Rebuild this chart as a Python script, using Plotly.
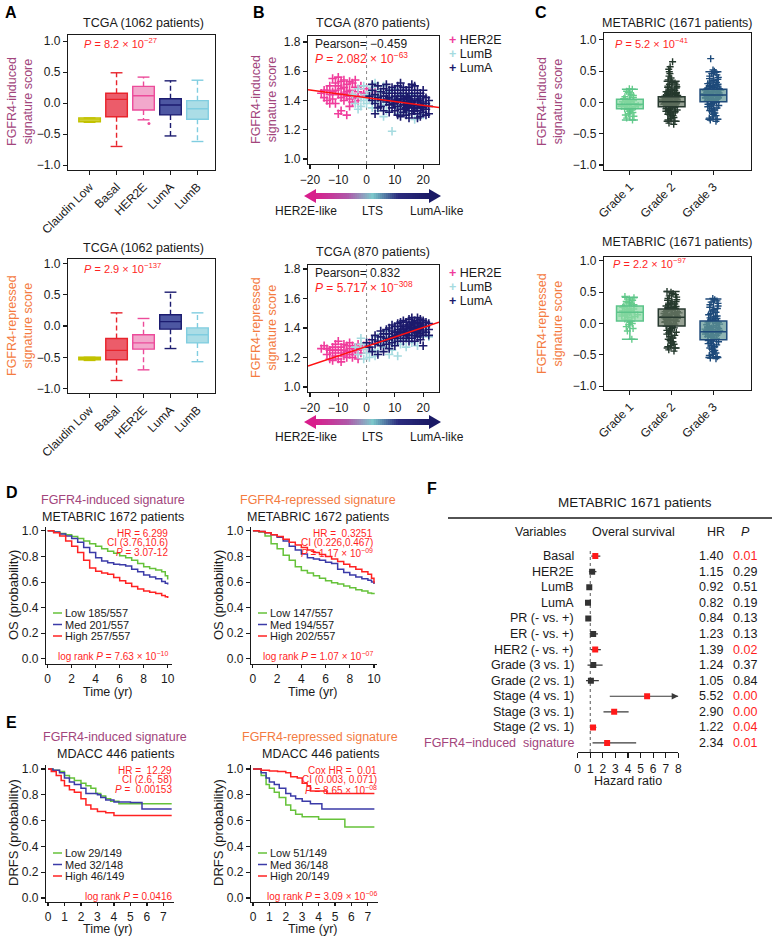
import plotly.graph_objects as go

W, H = 772, 940
FONT = "Liberation Sans, Arial, Helvetica, sans-serif"
BLACK = "#1a1a1a"
RED = "#ff1f1f"
PURPLE = "#a2457c"
ORANGE = "#f47b3f"

# ---------------- Panel A (TCGA subtypes) ----------------
a_cats = ["Claudin Low", "Basal", "HER2E", "LumA", "LumB"]
a_line = ["#c2c200", "#e8242c", "#ec4b9a", "#1c1c70", "#80cde0"]
a_fill = ["#e0e066", "#ec5c6a", "#f2a8cc", "#4d57a2", "#abdde6"]
a_top_low = [-0.31, -0.70, -0.27, -0.53, -0.62]
a_top_q1 = [-0.30, -0.22, -0.11, -0.19, -0.26]
a_top_med = [-0.27, 0.06, 0.12, -0.03, -0.09]
a_top_q3 = [-0.24, 0.16, 0.27, 0.07, 0.04]
a_top_high = [-0.24, 0.49, 0.42, 0.36, 0.37]
a_top_out_x = [2.2]
a_top_out_y = [-0.33]
a_bot_low = [-0.55, -0.87, -0.70, -0.36, -0.57]
a_bot_q1 = [-0.54, -0.54, -0.37, -0.05, -0.27]
a_bot_med = [-0.52, -0.39, -0.27, 0.07, -0.14]
a_bot_q3 = [-0.50, -0.20, -0.14, 0.18, -0.03]
a_bot_high = [-0.50, 0.21, 0.12, 0.54, 0.21]

# ---------------- Panel B (LTS scatter) ----------------
b_top_her2e_x = [-16, -15, -14, -14, -13, -13, -12, -12, -12, -11, -11, -11, -10, -10, -10, -10, -9, -9, -9, -9,
                 -8, -8, -8, -8, -7, -7, -7, -7, -6, -6, -6, -6, -5, -5, -5, -4, -4, -3, -3, -2, -2, -1, 0, 2, 3,
                 -15, -13, -4]
b_top_her2e_y = [1.45, 1.42, 1.47, 1.40, 1.50, 1.44, 1.55, 1.46, 1.41, 1.52, 1.47, 1.38, 1.56, 1.50, 1.44, 1.31,
                 1.53, 1.48, 1.42, 1.33, 1.54, 1.49, 1.45, 1.40, 1.51, 1.46, 1.43, 1.30, 1.53, 1.47, 1.41, 1.36,
                 1.52, 1.44, 1.39, 1.49, 1.42, 1.46, 1.40, 1.50, 1.43, 1.45, 1.48, 1.44, 1.46, 1.47, 1.38, 1.54]
b_top_lumb_x = [-5, -4, -3, -3, -2, -1, -1, 0, 0, 1, 1, 2, 2, 3, 3, 4, 4, 5, 5, 6, 6, 7, 7, 8, 8, 9, 9, 10, 10,
                11, 11, 12, 12, 13, 13, 14, 15, 15, 16, 17, 17, 18, 19, 20, 21, -2, 6, 3]
b_top_lumb_y = [1.44, 1.38, 1.34, 1.48, 1.42, 1.40, 1.50, 1.44, 1.38, 1.46, 1.41, 1.35, 1.49, 1.43, 1.39, 1.47,
                1.33, 1.41, 1.45, 1.37, 1.50, 1.43, 1.33, 1.46, 1.39, 1.19, 1.42, 1.36, 1.48, 1.40, 1.31, 1.44,
                1.35, 1.38, 1.47, 1.32, 1.41, 1.36, 1.44, 1.27, 1.39, 1.33, 1.42, 1.30, 1.37, 1.36, 1.29, 1.52]
b_top_luma_x = [1, 2, 2, 3, 3, 4, 4, 5, 5, 5, 6, 6, 6, 7, 7, 7, 8, 8, 8, 8, 9, 9, 9, 9, 10, 10, 10, 10, 11, 11,
                11, 11, 11, 12, 12, 12, 12, 12, 13, 13, 13, 13, 13, 14, 14, 14, 14, 14, 15, 15, 15, 15, 15, 15,
                16, 16, 16, 16, 16, 17, 17, 17, 17, 17, 18, 18, 18, 18, 18, 19, 19, 19, 19, 19, 20, 20, 20, 20,
                20, 21, 21, 21, 22, 22, 22, 13.5, 14.5, 15.5, 16.5, 17.5, 18.5, 16.5, 12.5, 10.5, 9.5, 19.5,
                14.5, 13.5, 7.5, 16, 12, 3, 18, 21, 2, 4]
b_top_luma_y = [1.43, 1.40, 1.47, 1.38, 1.44, 1.42, 1.50, 1.36, 1.46, 1.40, 1.43, 1.33, 1.48, 1.39, 1.45, 1.51,
                1.37, 1.42, 1.47, 1.32, 1.40, 1.45, 1.35, 1.49, 1.38, 1.43, 1.33, 1.47, 1.36, 1.41, 1.45, 1.50,
                1.30, 1.34, 1.39, 1.43, 1.47, 1.29, 1.37, 1.41, 1.45, 1.49, 1.32, 1.35, 1.39, 1.43, 1.47, 1.30,
                1.33, 1.37, 1.41, 1.45, 1.49, 1.28, 1.35, 1.39, 1.43, 1.47, 1.31, 1.33, 1.37, 1.41, 1.45, 1.50,
                1.31, 1.35, 1.39, 1.43, 1.47, 1.33, 1.37, 1.41, 1.45, 1.29, 1.35, 1.39, 1.43, 1.47, 1.32, 1.34,
                1.38, 1.42, 1.36, 1.31, 1.40, 1.34, 1.36, 1.40, 1.37, 1.35, 1.40, 1.33, 1.41, 1.40, 1.38, 1.36,
                1.42, 1.39, 1.41, 1.51, 1.52, 1.31, 1.28, 1.30, 1.51, 1.35]
b_top_fit = dict(intercept=1.419, slope=-0.00262)

b_bot_her2e_x = [-16, -15, -14, -13, -13, -12, -12, -11, -11, -10, -10, -10, -9, -9, -8, -8, -8, -7, -7, -6, -6,
                 -6, -5, -5, -5, -4, -4, -3, -3, -2, -2, -1, 0, -12, -9, -7, -14, -11, -3, 1]
b_bot_her2e_y = [1.26, 1.28, 1.22, 1.25, 1.19, 1.27, 1.23, 1.21, 1.29, 1.25, 1.19, 1.31, 1.23, 1.27, 1.21, 1.25,
                 1.29, 1.24, 1.20, 1.26, 1.22, 1.30, 1.24, 1.28, 1.20, 1.26, 1.22, 1.25, 1.29, 1.27, 1.23, 1.28,
                 1.26, 1.18, 1.17, 1.28, 1.26, 1.25, 1.19, 1.30]
b_bot_lumb_x = [-4, -3, -2, -1, -1, 0, 0, 1, 2, 2, 3, 4, 4, 5, 6, 6, 7, 8, 8, 9, 9, 10, 10, 11, 11, 12, 12, 13,
                14, 14, 15, 15, 16, 16, 17, 18, 18, 19, 20, 21, -2, 3, 7, 1, 22]
b_bot_lumb_y = [1.27, 1.22, 1.29, 1.19, 1.26, 1.23, 1.30, 1.27, 1.25, 1.32, 1.29, 1.24, 1.34, 1.30, 1.27, 1.36,
                1.32, 1.22, 1.29, 1.35, 1.25, 1.31, 1.38, 1.21, 1.34, 1.29, 1.39, 1.32, 1.27, 1.37, 1.40, 1.33,
                1.30, 1.42, 1.36, 1.28, 1.39, 1.34, 1.37, 1.40, 1.33, 1.21, 1.38, 1.20, 1.34]
b_bot_luma_x = [0, 1, 2, 3, 3, 4, 5, 5, 5, 6, 6, 7, 7, 7, 8, 8, 8, 9, 9, 9, 9, 10, 10, 10, 10, 11, 11, 11, 11,
                12, 12, 12, 12, 13, 13, 13, 13, 14, 14, 14, 14, 15, 15, 15, 15, 15, 16, 16, 16, 16, 17, 17, 17,
                17, 17, 18, 18, 18, 18, 19, 19, 19, 19, 19, 20, 20, 20, 20, 21, 21, 21, 22, 22, 22, 4, 6, 12.5,
                14.5, 16.5, 13.5, 15.5, 17.5, 18.5, 11.5, 10.5, 19.5, 16.5, 14.5, 20, 2, 8, 13, 16, 18]
b_bot_luma_y = [1.30, 1.27, 1.32, 1.29, 1.35, 1.31, 1.28, 1.34, 1.38, 1.31, 1.36, 1.29, 1.33, 1.39, 1.32, 1.36,
                1.40, 1.30, 1.34, 1.38, 1.42, 1.33, 1.37, 1.41, 1.28, 1.35, 1.39, 1.43, 1.31, 1.33, 1.37, 1.41,
                1.44, 1.35, 1.39, 1.42, 1.31, 1.33, 1.37, 1.40, 1.44, 1.35, 1.38, 1.42, 1.46, 1.31, 1.33, 1.37,
                1.40, 1.44, 1.35, 1.39, 1.42, 1.45, 1.31, 1.34, 1.37, 1.41, 1.44, 1.36, 1.39, 1.43, 1.46, 1.32,
                1.35, 1.38, 1.42, 1.45, 1.37, 1.41, 1.44, 1.39, 1.43, 1.35, 1.22, 1.24, 1.39, 1.41, 1.39, 1.37,
                1.40, 1.38, 1.40, 1.37, 1.35, 1.41, 1.43, 1.35, 1.28, 1.24, 1.26, 1.45, 1.47, 1.47]
b_bot_fit = dict(intercept=1.275, slope=0.0064)
b_ticks = [-20, -10, 0, 10, 20]
b_yticks = [1.0, 1.2, 1.4, 1.6, 1.8]

# ---------------- Panel C (METABRIC grades) ----------------
c_cats = ["Grade 1", "Grade 2", "Grade 3"]
c_line = ["#5cc48a", "#283a30", "#1f4a7a"]
c_fill = ["rgba(140,218,165,0.72)", "rgba(112,128,108,0.72)", "rgba(100,152,150,0.72)"]
c_pt = ["#66cc8c", "#24382c", "#1d4a7a"]
c_top_low = [-0.28, -0.30, -0.27]
c_top_q1 = [-0.10, -0.07, 0.01]
c_top_med = [-0.03, 0.01, 0.12]
c_top_q3 = [0.05, 0.09, 0.21]
c_top_high = [0.21, 0.34, 0.49]
c_bot_low = [-0.25, -0.39, -0.54]
c_bot_q1 = [0.04, -0.04, -0.26]
c_bot_med = [0.18, 0.10, -0.13]
c_bot_q3 = [0.28, 0.23, 0.04]
c_bot_high = [0.42, 0.51, 0.39]
c_top_g1 = [0.22, 0.21, 0.18, 0.16, 0.13, 0.11, 0.09, 0.08, 0.06, 0.05, 0.04, 0.03, 0.02, 0.01, 0.00, -0.01,
            -0.02, -0.03, -0.03, -0.04, -0.05, -0.05, -0.06, -0.07, -0.08, -0.09, -0.10, -0.11, -0.12, -0.14,
            -0.16, -0.18, -0.20, -0.22, -0.25, -0.28, 0.02, -0.06]
c_top_g2 = [0.65, 0.57, 0.53, 0.49, 0.46, 0.42, 0.39, 0.36, 0.34, 0.32, 0.31, 0.29, 0.28, 0.26, 0.25, 0.24, 0.23,
            0.21, 0.20, 0.19, 0.18, 0.17, 0.16, 0.16, 0.15, 0.14, 0.13, 0.13, 0.12, 0.11, 0.11, 0.10, 0.09, 0.09,
            0.08, 0.08, 0.07, 0.07, 0.06, 0.06, 0.05, 0.05, 0.04, 0.04, 0.03, 0.03, 0.02, 0.02, 0.02, 0.01, 0.01,
            0.00, 0.00, -0.01, -0.01, -0.02, -0.02, -0.03, -0.03, -0.04, -0.04, -0.05, -0.05, -0.06, -0.07,
            -0.07, -0.08, -0.09, -0.10, -0.10, -0.11, -0.12, -0.13, -0.14, -0.15, -0.16, -0.17, -0.19, -0.20,
            -0.21, -0.23, -0.24, -0.26, -0.28, -0.30, -0.33, -0.35]
c_top_g3 = [0.70, 0.52, 0.50, 0.48, 0.46, 0.44, 0.42, 0.40, 0.38, 0.37, 0.35, 0.34, 0.32, 0.31, 0.30, 0.29, 0.28,
            0.27, 0.26, 0.25, 0.24, 0.23, 0.22, 0.22, 0.21, 0.20, 0.20, 0.19, 0.18, 0.18, 0.17, 0.16, 0.16, 0.15,
            0.15, 0.14, 0.14, 0.13, 0.13, 0.12, 0.12, 0.11, 0.11, 0.10, 0.10, 0.09, 0.09, 0.08, 0.08, 0.07, 0.07,
            0.06, 0.05, 0.05, 0.04, 0.03, 0.03, 0.02, 0.01, 0.00, -0.01, -0.02, -0.03, -0.04, -0.05, -0.06,
            -0.07, -0.09, -0.10, -0.12, -0.13, -0.15, -0.17, -0.19, -0.21, -0.23, -0.25, -0.27, -0.28, -0.30]
c_bot_g1 = [0.43, 0.41, 0.39, 0.37, 0.35, 0.33, 0.31, 0.30, 0.28, 0.27, 0.26, 0.24, 0.23, 0.22, 0.21, 0.20, 0.19,
            0.18, 0.17, 0.16, 0.15, 0.14, 0.13, 0.12, 0.11, 0.10, 0.09, 0.07, 0.06, 0.04, 0.02, 0.00, -0.02,
            -0.05, -0.08, -0.12, -0.25, 0.18, 0.25, 0.15]
c_bot_g2 = [0.51, 0.50, 0.48, 0.46, 0.44, 0.42, 0.40, 0.38, 0.37, 0.35, 0.34, 0.32, 0.31, 0.30, 0.28, 0.27, 0.26,
            0.25, 0.24, 0.23, 0.22, 0.21, 0.20, 0.19, 0.19, 0.18, 0.17, 0.16, 0.16, 0.15, 0.14, 0.14, 0.13, 0.12,
            0.12, 0.11, 0.11, 0.10, 0.10, 0.09, 0.09, 0.08, 0.07, 0.07, 0.06, 0.05, 0.05, 0.04, 0.03, 0.03, 0.02,
            0.01, 0.00, -0.01, -0.02, -0.03, -0.04, -0.05, -0.06, -0.07, -0.08, -0.09, -0.11, -0.12, -0.14,
            -0.15, -0.17, -0.19, -0.21, -0.23, -0.25, -0.27, -0.29, -0.31, -0.33, -0.35, -0.37, -0.39, -0.42,
            -0.44]
c_bot_g3 = [0.40, 0.38, 0.36, 0.34, 0.32, 0.30, 0.28, 0.26, 0.24, 0.22, 0.20, 0.18, 0.16, 0.14, 0.12, 0.11, 0.09,
            0.08, 0.07, 0.05, 0.04, 0.03, 0.02, 0.01, 0.00, -0.01, -0.02, -0.03, -0.04, -0.05, -0.06, -0.06,
            -0.07, -0.08, -0.08, -0.09, -0.10, -0.10, -0.11, -0.11, -0.12, -0.12, -0.13, -0.13, -0.14, -0.14,
            -0.15, -0.15, -0.16, -0.17, -0.17, -0.18, -0.19, -0.19, -0.20, -0.21, -0.22, -0.23, -0.24, -0.25,
            -0.26, -0.27, -0.28, -0.29, -0.31, -0.32, -0.34, -0.35, -0.37, -0.39, -0.41, -0.43, -0.45, -0.47,
            -0.49, -0.51, -0.53, -0.55, -0.56]
score_ticks = [-1.0, -0.5, 0.0, 0.5, 1.0]

# ---------------- Panel D (METABRIC OS, KM) ----------------
d_t = [0, 0.5, 1, 1.5, 2, 2.5, 3, 3.5, 4, 4.5, 5, 5.5, 6, 6.5, 7, 7.5, 8, 8.5, 9, 9.5, 9.8, 10]
d1_low = [1.0, 0.99, 0.98, 0.97, 0.955, 0.94, 0.92, 0.90, 0.88, 0.86, 0.84, 0.825, 0.805, 0.79, 0.77, 0.745,
          0.72, 0.705, 0.695, 0.68, 0.65, 0.62]
d1_med = [1.0, 0.99, 0.975, 0.96, 0.94, 0.91, 0.87, 0.83, 0.79, 0.765, 0.75, 0.74, 0.735, 0.725, 0.70, 0.68,
          0.655, 0.64, 0.625, 0.605, 0.59, 0.58]
d1_high = [1.0, 0.985, 0.96, 0.92, 0.88, 0.83, 0.77, 0.71, 0.685, 0.67, 0.66, 0.635, 0.61, 0.59, 0.565, 0.545,
           0.53, 0.52, 0.51, 0.495, 0.485, 0.475]
d2_low = [1.0, 0.99, 0.96, 0.90, 0.86, 0.81, 0.77, 0.72, 0.69, 0.67, 0.65, 0.63, 0.61, 0.595, 0.585, 0.57,
          0.555, 0.54, 0.53, 0.515, 0.51, 0.505]
d2_med = [1.0, 0.995, 0.985, 0.97, 0.95, 0.92, 0.88, 0.85, 0.82, 0.79, 0.78, 0.77, 0.755, 0.745, 0.70, 0.675,
          0.655, 0.64, 0.625, 0.615, 0.60, 0.585]
d2_high = [1.0, 0.995, 0.985, 0.97, 0.955, 0.935, 0.91, 0.89, 0.87, 0.85, 0.83, 0.815, 0.80, 0.78, 0.76, 0.74,
           0.72, 0.70, 0.68, 0.66, 0.63, 0.59]

# ---------------- Panel E (MDACC DRFS, KM) ----------------
e1_low_t = [0, 0.3, 0.7, 1.0, 1.3, 1.6, 2.0, 2.3, 2.6, 2.9, 3.2, 3.5, 3.8, 4.3, 7.5]
e1_low_s = [1.0, 0.99, 0.98, 0.95, 0.93, 0.91, 0.89, 0.87, 0.85, 0.81, 0.79, 0.77, 0.75, 0.73, 0.73]
e1_med_t = [0, 0.3, 0.7, 1.0, 1.3, 1.6, 2.0, 2.3, 3.0, 3.2, 3.5, 4.0, 5.0, 5.7, 7.5]
e1_med_s = [1.0, 0.99, 0.97, 0.93, 0.90, 0.88, 0.85, 0.81, 0.80, 0.78, 0.76, 0.745, 0.74, 0.69, 0.69]
e1_high_t = [0, 0.2, 0.5, 0.8, 1.0, 1.3, 1.6, 2.0, 2.3, 2.6, 3.0, 3.5, 4.0, 7.5]
e1_high_s = [1.0, 0.98, 0.95, 0.91, 0.87, 0.84, 0.82, 0.77, 0.72, 0.69, 0.67, 0.66, 0.64, 0.64]
e2_low_t = [0, 0.5, 0.8, 1.0, 1.3, 1.6, 2.0, 2.3, 2.6, 3.0, 4.0, 5.6, 7.4]
e2_low_s = [1.0, 0.95, 0.88, 0.85, 0.82, 0.78, 0.72, 0.68, 0.65, 0.63, 0.61, 0.55, 0.55]
e2_med_t = [0, 0.5, 0.8, 1.0, 1.3, 1.6, 2.0, 2.3, 2.6, 3.0, 3.5, 4.2, 7.4]
e2_med_s = [1.0, 0.97, 0.93, 0.90, 0.88, 0.85, 0.81, 0.79, 0.77, 0.75, 0.73, 0.69, 0.69]
e2_high_t = [0, 0.5, 1.0, 1.5, 2.0, 2.3, 2.7, 3.0, 3.3, 3.5, 4.5, 7.4]
e2_high_s = [1.0, 0.99, 0.985, 0.98, 0.97, 0.94, 0.93, 0.89, 0.87, 0.83, 0.81, 0.81]
km_colors = {"Low": "#66c23a", "Med": "#3b3ba8", "High": "#ff2222"}
prob_ticks = [0.0, 0.2, 0.4, 0.6, 0.8, 1.0]

# ---------------- Panel F (forest plot) ----------------
f_vars = ["Basal", "HER2E", "LumB", "LumA", "PR (- vs. +)", "ER (- vs. +)", "HER2 (- vs. +)",
          "Grade (3 vs. 1)", "Grade (2 vs. 1)", "Stage (4 vs. 1)", "Stage (3 vs. 1)", "Stage (2 vs. 1)",
          "FGFR4\u2212induced  signature"]
f_hr = [1.40, 1.15, 0.92, 0.82, 0.84, 1.23, 1.39, 1.24, 1.05, 5.52, 2.90, 1.22, 2.34]
f_lo = [1.08, 0.89, 0.77, 0.68, 0.68, 0.94, 1.05, 0.78, 0.66, 2.55, 2.05, 1.01, 1.18]
f_hi = [1.80, 1.49, 1.10, 0.99, 1.05, 1.61, 1.84, 1.98, 1.68, 11.9, 4.05, 1.48, 4.65]
f_p = ["0.01", "0.29", "0.51", "0.19", "0.13", "0.13", "0.02", "0.37", "0.84", "0.00", "0.00", "0.04", "0.01"]
f_xticks = [0, 1, 2, 3, 4, 5, 6, 7, 8]

# =====================================================================
fig = go.Figure()
layout = {}
annotations = []
shapes = []


def ref(n):
    return "" if n == 1 else str(n)


def PX(x):
    return x / W


def PY(y):
    return 1 - y / H


def make_axes(n, l, r, t, b, xr, yr, mirror=True, xkw=None, ykw=None, visible=True):
    base = dict(showgrid=False, zeroline=False, showline=True, linecolor=BLACK, linewidth=1.2,
                ticks="outside", ticklen=4, tickwidth=1.1, tickcolor=BLACK, automargin=False,
                tickfont=dict(size=12, color=BLACK, family=FONT), mirror=mirror, visible=visible)
    xa = dict(base, domain=[PX(l), PX(r)], range=xr, anchor="y" + ref(n))
    ya = dict(base, domain=[PY(b), PY(t)], range=yr, anchor="x" + ref(n))
    if xkw:
        xa.update(xkw)
    if ykw:
        ya.update(ykw)
    layout["xaxis" + ref(n)] = xa
    layout["yaxis" + ref(n)] = ya


def ann(text, x, y, size=12, color=BLACK, xanchor="center", yanchor="middle", angle=0):
    annotations.append(dict(text=text, x=PX(x), y=PY(y), xref="paper", yref="paper", showarrow=False,
                            font=dict(size=size, color=color, family=FONT), xanchor=xanchor,
                            yanchor=yanchor, textangle=angle))


def axref(n):
    return dict(xaxis="x" + ref(n), yaxis="y" + ref(n))


# ---------------- A ----------------
CAP = 0.22
DASH = "5px,3px"


def a_boxes(n, low, q1, med, q3, high):
    for i in range(len(a_cats)):
        lc, fc = a_line[i], a_fill[i]
        fig.add_trace(go.Scatter(x=[i, i, None, i, i], y=[q3[i], high[i], None, q1[i], low[i]], mode="lines",
                                 line=dict(color=lc, width=1.4, dash=DASH), hoverinfo="skip", **axref(n)))
        fig.add_trace(go.Scatter(x=[i - CAP, i + CAP, None, i - CAP, i + CAP],
                                 y=[high[i], high[i], None, low[i], low[i]], mode="lines",
                                 line=dict(color=lc, width=1.4), hoverinfo="skip", **axref(n)))
        fig.add_trace(go.Box(x=[i], q1=[q1[i]], median=[med[i]], q3=[q3[i]], lowerfence=[q1[i]],
                             upperfence=[q3[i]], width=0.8, fillcolor=fc, line=dict(color=lc, width=1.4),
                             whiskerwidth=0, boxpoints=False, **axref(n)))


a_boxes(1, a_top_low, a_top_q1, a_top_med, a_top_q3, a_top_high)
fig.add_trace(go.Scatter(x=a_top_out_x, y=a_top_out_y, mode="markers",
                         marker=dict(size=3, color=a_line[2]), **axref(1)))
a_boxes(2, a_bot_low, a_bot_q1, a_bot_med, a_bot_q3, a_bot_high)

a_xkw = dict(tickvals=list(range(len(a_cats))), ticktext=a_cats, tickangle=-45)
a_ykw = dict(tickvals=score_ticks, tickformat=".1f")
make_axes(1, 68, 215, 35, 170, [-0.8, 4.65], [-1.08, 1.10], xkw=a_xkw, ykw=a_ykw)
make_axes(2, 68, 215, 259, 393, [-0.8, 4.65], [-1.07, 1.07], xkw=a_xkw, ykw=a_ykw)

ann("TCGA (1062 patients)", 143, 23, 12.5)
ann("TCGA (1062 patients)", 143, 248, 12.5)
ann("<i>P</i> = 8.2 \u00d7 10<sup>\u221227</sup>", 82, 43, 11, RED, "left")
ann("<i>P</i> = 2.9 \u00d7 10<sup>\u2212137</sup>", 82, 268, 11, RED, "left")
ann("FGFR4-induced<br>signature score", 20, 102, 12.5, PURPLE, angle=-90)
ann("FGFR4-repressed<br>signature score", 20, 326, 12.5, ORANGE, angle=-90)

# ---------------- B ----------------
b_cols = {"HER2E": "#f03c9c", "LumB": "#a6dbe0", "LumA": "#1c1a6c"}


def b_scatter(n, series, fit, xr):
    for name, xs, ys in series:
        fig.add_trace(go.Scatter(x=xs, y=ys, mode="markers",
                                 marker=dict(symbol="cross-thin", size=6,
                                             line=dict(width=1.6, color=b_cols[name])),
                                 hoverinfo="skip", **axref(n)))
    fx = [xr[0], xr[1]]
    fy = [fit["intercept"] + fit["slope"] * v for v in fx]
    fig.add_trace(go.Scatter(x=fx, y=fy, mode="lines", line=dict(color="#ff1010", width=1.5), **axref(n)))
    shapes.append(dict(type="line", xref="x" + ref(n), yref="y" + ref(n) + " domain", x0=0, x1=0, y0=0, y1=1,
                       line=dict(color="#888888", width=1, dash="dot"), layer="below"))


b_xr = [-20.7, 25.6]
b_scatter(3, [("HER2E", b_top_her2e_x, b_top_her2e_y), ("LumB", b_top_lumb_x, b_top_lumb_y),
              ("LumA", b_top_luma_x, b_top_luma_y)], b_top_fit, b_xr)
b_scatter(4, [("HER2E", b_bot_her2e_x, b_bot_her2e_y), ("LumB", b_bot_lumb_x, b_bot_lumb_y),
              ("LumA", b_bot_luma_x, b_bot_luma_y)], b_bot_fit, b_xr)
b_xkw = dict(tickvals=b_ticks)
b_ykw = dict(tickvals=b_yticks, tickformat=".1f")
make_axes(3, 308, 439, 36, 164, b_xr, [0.966, 1.841], xkw=b_xkw, ykw=b_ykw)
make_axes(4, 308, 439, 265, 392, b_xr, [0.966, 1.827], xkw=b_xkw, ykw=b_ykw)

ann("TCGA (870 patients)", 373, 23, 12.5)
ann("TCGA (870 patients)", 373, 252, 12.5)
ann("Pearson= \u22120.459", 313, 44, 12, BLACK, "left")
ann("<i>P</i> = 2.082 \u00d7 10<sup>\u221263</sup>", 313, 58, 12, RED, "left")
ann("Pearson= 0.832", 313, 273, 12, BLACK, "left")
ann("<i>P</i> = 5.717 \u00d7 10<sup>\u2212308</sup>", 313, 287, 12, RED, "left")
ann("FGFR4-induced<br>signature score", 264, 100, 12.5, PURPLE, angle=-90)
ann("FGFR4-repressed<br>signature score", 264, 328, 12.5, ORANGE, angle=-90)
for yy in (40, 273):
    for k, name in enumerate(["HER2E", "LumB", "LumA"]):
        yk = yy + k * 14
        ann(f"<span style='color:{b_cols[name]}'><b>+</b></span> {name}", 447, yk, 12.5, BLACK, "left")

# gradient arrows (LTS scale)
grad_scale = [[0, "#d81e8c"], [0.28, "#b056a8"], [0.5, "#7ccacc"], [0.72, "#2c2c7e"], [1, "#1b1a66"]]
ramp = list(range(60))
for n, (yt, yb) in ((12, (193, 199)), (13, (419, 425))):
    fig.add_trace(go.Heatmap(z=[ramp], colorscale=grad_scale, showscale=False, hoverinfo="skip", **axref(n)))
    make_axes(n, 314, 431, yt, yb, [-0.5, len(ramp) - 0.5], [-0.5, 0.5], visible=False)
    ym = (yt + yb) / 2
    shapes.append(dict(type="path", xref="paper", yref="paper",
                       path=f"M {PX(304)} {PY(ym)} L {PX(316)} {PY(ym - 7)} L {PX(316)} {PY(ym + 7)} Z",
                       fillcolor="#d81e8c", line=dict(width=0)))
    shapes.append(dict(type="path", xref="paper", yref="paper",
                       path=f"M {PX(441)} {PY(ym)} L {PX(429)} {PY(ym - 7)} L {PX(429)} {PY(ym + 7)} Z",
                       fillcolor="#1b1a66", line=dict(width=0)))
    ann("HER2E-like", 306, ym + 15, 12)
    ann("LTS", 372, ym + 15, 12)
    ann("LumA-like", 437, ym + 15, 12)

# ---------------- C ----------------


def c_boxes(n, groups, low, q1, med, q3, high):
    for i, vals in enumerate(groups):
        fig.add_trace(go.Box(x=[i] * len(vals), y=vals, boxpoints="all", jitter=0.7, pointpos=0, width=0.64,
                             fillcolor="rgba(0,0,0,0)", line=dict(width=0),
                             marker=dict(symbol="cross-thin", size=5, color=c_pt[i],
                                         line=dict(width=1.4, color=c_pt[i])),
                             hoverinfo="skip", **axref(n)))
    for i in range(len(c_cats)):
        fig.add_trace(go.Box(x=[i], q1=[q1[i]], median=[med[i]], q3=[q3[i]], lowerfence=[low[i]],
                             upperfence=[high[i]], width=0.64, whiskerwidth=0.6, fillcolor=c_fill[i],
                             line=dict(color=c_line[i], width=1.5), boxpoints=False, **axref(n)))


c_boxes(5, [c_top_g1, c_top_g2, c_top_g3], c_top_low, c_top_q1, c_top_med, c_top_q3, c_top_high)
c_boxes(6, [c_bot_g1, c_bot_g2, c_bot_g3], c_bot_low, c_bot_q1, c_bot_med, c_bot_q3, c_bot_high)
c_xkw = dict(tickvals=list(range(len(c_cats))), ticktext=c_cats, tickangle=-45)
make_axes(5, 604, 751, 33, 170, [-0.62, 2.9], [-1.08, 1.11], xkw=c_xkw, ykw=a_ykw)
make_axes(6, 604, 751, 257, 390, [-0.62, 2.9], [-1.06, 1.06], xkw=c_xkw, ykw=a_ykw)
ann("METABRIC (1671 patients)", 677, 23, 12.5)
ann("METABRIC (1671 patients)", 677, 242, 12.5)
ann("<i>P</i> = 5.2 \u00d7 10<sup>\u221241</sup>", 613, 43, 11, RED, "left")
ann("<i>P</i> = 2.2 \u00d7 10<sup>\u221297</sup>", 611, 263, 11, RED, "left")
ann("FGFR4-induced<br>signature score", 550, 102, 12.5, PURPLE, angle=-90)
ann("FGFR4-repressed<br>signature score", 550, 324, 12.5, ORANGE, angle=-90)

# ---------------- D & E (KM) ----------------


def km(n, curves):
    for name, t, s in curves:
        fig.add_trace(go.Scatter(x=t, y=s, mode="lines", line=dict(color=km_colors[name], width=1.5, shape="hv"),
                                 hoverinfo="skip", **axref(n)))


km(7, [("Low", d_t, d1_low), ("Med", d_t, d1_med), ("High", d_t, d1_high)])
km(8, [("Low", d_t, d2_low), ("Med", d_t, d2_med), ("High", d_t, d2_high)])
km(9, [("Low", e1_low_t, e1_low_s), ("Med", e1_med_t, e1_med_s), ("High", e1_high_t, e1_high_s)])
km(10, [("Low", e2_low_t, e2_low_s), ("Med", e2_med_t, e2_med_s), ("High", e2_high_t, e2_high_s)])

km_y = dict(tickvals=prob_ticks, tickformat=".1f")
km_x = dict(ticklen=3)
make_axes(7, 46, 172, 527, 664, [-0.14, 10.36], [-0.04, 1.03], mirror=False,
          xkw=dict(km_x, tickvals=[0, 2, 4, 6, 8, 10]), ykw=km_y)
make_axes(8, 251, 377, 527, 664, [-0.16, 10.25], [-0.04, 1.03], mirror=False,
          xkw=dict(km_x, tickvals=[0, 2, 4, 6, 8, 10]), ykw=km_y)
make_axes(9, 46, 174, 765, 902, [-0.12, 7.64], [-0.031, 1.031], mirror=False,
          xkw=dict(km_x, tickvals=list(range(8))), ykw=km_y)
make_axes(10, 251, 378, 765, 902, [-0.12, 7.62], [-0.031, 1.031], mirror=False,
          xkw=dict(km_x, tickvals=list(range(8))), ykw=km_y)


def km_text(xl, xr, title1, c1, title2, ty, stats, logrank, legend, ly, sy):
    cx = (xl + xr) / 2 + 4
    ann(title1, cx, ty, 12.5, c1)
    ann(title2, cx, ty + 17, 12.5, BLACK)
    for k, s in enumerate(stats):
        ann(s, xr - 2, sy + k * 9.8, 10, RED, "right")
    ann(logrank, xr - 2, ly + 43, 10, RED, "right")
    for k, (name, lab) in enumerate(legend):
        yk = ly + k * 11.5
        shapes.append(dict(type="line", xref="paper", yref="paper", x0=PX(xl + 7), x1=PX(xl + 16),
                           y0=PY(yk), y1=PY(yk), line=dict(color=km_colors[name], width=1.5)))
        ann(name + " " + lab, xl + 17, yk, 11, BLACK, "left")


km_text(46, 172, "FGFR4-induced signature", PURPLE, "METABRIC 1672 patients", 500,
        ["HR = 6.299", "CI (3.76,10.6)", "<i>P</i> = 3.07-12"],
        "log rank <i>P</i> = 7.63 \u00d7 10<sup>\u221210</sup>",
        [("Low", "185/557"), ("Med", "201/557"), ("High", "257/557")], 613, 533)
km_text(251, 377, "FGFR4-repressed signature", ORANGE, "METABRIC 1672 patients", 500,
        ["HR =  0.3251", "CI (0.226,0.467)", "<i>P</i> = 1.17 \u00d7 10<sup>\u221209</sup>"],
        "log rank <i>P</i> = 1.07 \u00d7 10<sup>\u221207</sup>",
        [("Low", "147/557"), ("Med", "194/557"), ("High", "202/557")], 613, 533)
km_text(46, 176, "FGFR4-induced signature", PURPLE, "MDACC 446 patients", 737,
        ["HR =  12.29", "CI (2.6, 58)", "<i>P</i> =  0.00153"],
        "log rank <i>P</i> = 0.0416",
        [("Low", "29/149"), ("Med", "32/148"), ("High", "46/149")], 853, 770)
km_text(251, 381, "FGFR4-repressed signature", ORANGE, "MDACC 446 patients", 737,
        ["Cox HR =  0.01", "CI (0.003, 0.071)", "<i>P</i> = 8.65 \u00d7 10<sup>\u221208</sup>"],
        "log rank <i>P</i> = 3.09 \u00d7 10<sup>\u221206</sup>",
        [("Low", "51/149"), ("Med", "36/148"), ("High", "20/149")], 853, 770)
ann("OS (probability)", 13, 595, 13, BLACK, angle=-90)
ann("OS (probability)", 218, 595, 13, BLACK, angle=-90)
ann("DRFS (probability)", 13, 833, 13, BLACK, angle=-90)
ann("DRFS (probability)", 218, 833, 13, BLACK, angle=-90)
ann("Time (yr)", 108, 692, 12.5)
ann("Time (yr)", 313, 692, 12.5)
ann("Time (yr)", 108, 929, 12.5)
ann("Time (yr)", 313, 929, 12.5)

# ---------------- F (forest) ----------------
rows = list(range(len(f_vars)))
f_sig = [float(p) < 0.05 for p in f_p]
xmax = f_xticks[-1]
hi_clip = [min(h, xmax) for h in f_hi]
fig.add_trace(go.Scatter(x=f_hr, y=rows, mode="markers",
                         error_x=dict(type="data", symmetric=False,
                                      array=[h - m for h, m in zip(hi_clip, f_hr)],
                                      arrayminus=[m - lo for m, lo in zip(f_hr, f_lo)],
                                      color="#3a3a3a", thickness=1.2, width=0),
                         marker=dict(symbol="square", size=6,
                                     color=["#ff1a1a" if s else "#333333" for s in f_sig]),
                         hoverinfo="skip", **axref(11)))
make_axes(11, 577.7, 678.3, 548, 752, [0, xmax], [len(f_vars) - 0.42, -0.52], mirror=False,
          xkw=dict(tickvals=f_xticks, ticklen=5), ykw=dict(visible=False))
shapes.append(dict(type="line", xref="x11", yref="y11 domain", x0=1, x1=1, y0=0, y1=1,
                   line=dict(color="#666666", width=1.1, dash="3px,3px"), layer="below"))
for i, h in enumerate(f_hi):
    if h > xmax:
        annotations.append(dict(x=xmax, y=i, xref="x11", yref="y11", ax=xmax - 0.6, ay=i, axref="x11",
                                ayref="y11", text="", showarrow=True, arrowhead=2, arrowsize=1.1,
                                arrowwidth=1.2, arrowcolor="#3a3a3a"))
for i, v in enumerate(f_vars):
    col = PURPLE if "FGFR4" in v else BLACK
    annotations.append(dict(text=v, x=PX(576), y=i, xref="paper", yref="y11", xanchor="right",
                            showarrow=False, font=dict(size=12.5, color=col, family=FONT)))
    annotations.append(dict(text=f"{f_hr[i]:.2f}", x=PX(725), y=i, xref="paper", yref="y11",
                            xanchor="right", showarrow=False, font=dict(size=12.5, color=BLACK, family=FONT)))
    annotations.append(dict(text=f_p[i], x=PX(759), y=i, xref="paper", yref="y11", xanchor="right",
                            showarrow=False,
                            font=dict(size=12.5, color=RED if f_sig[i] else BLACK, family=FONT)))
ann("METABRIC 1671 patients", 635, 503, 13.5)
shapes.append(dict(type="line", xref="paper", yref="paper", x0=PX(448), x1=PX(772), y0=PY(518), y1=PY(518),
                   line=dict(color=BLACK, width=1.5)))
ann("Variables", 568, 532, 12.5, BLACK, "right")
ann("Overal survival", 633, 532, 12.5)
ann("HR", 716, 532, 12.5)
ann("<i>P</i>", 745, 532, 12.5)
ann("Hazard ratio", 628, 781, 12.5)

# panel letters
for letter, x, y in (("A", 3, 12), ("B", 251, 12), ("C", 533, 12), ("D", 4, 492), ("E", 4, 722),
                     ("F", 425, 488)):
    ann(f"<b>{letter}</b>", x, y, 16, "#000000", "left")

layout.update(dict(template="none", width=W, height=H, margin=dict(l=0, r=0, t=0, b=0, autoexpand=False),
                   paper_bgcolor="white", plot_bgcolor="rgba(0,0,0,0)", showlegend=False, boxmode="overlay",
                   font=dict(family=FONT, size=12, color=BLACK), annotations=annotations, shapes=shapes))
fig.update_layout(**layout)
fig.write_html("out.html", config={"displayModeBar": False, "staticPlot": True},
               post_script="document.body.style.margin='0px';")
